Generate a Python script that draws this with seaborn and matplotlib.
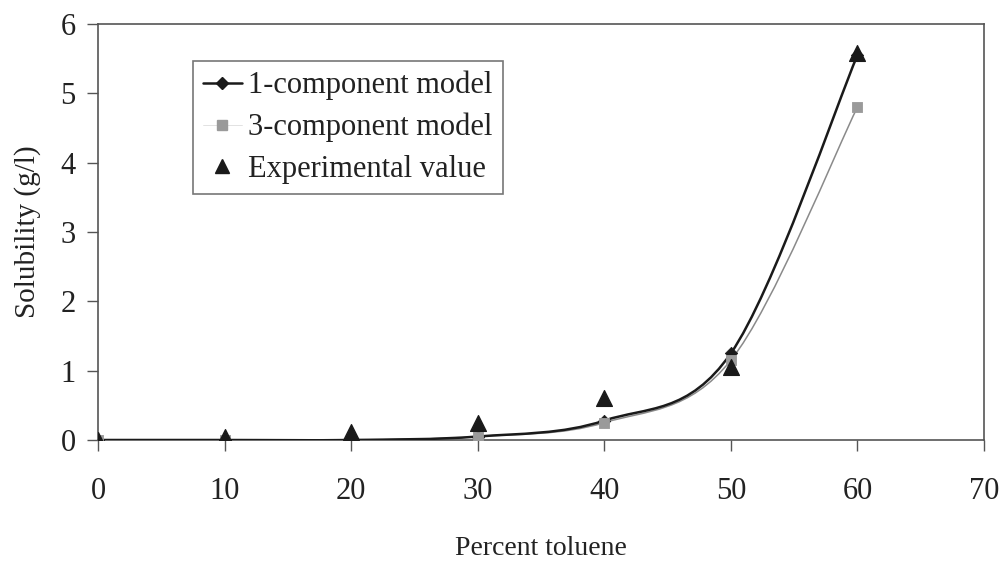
import numpy as np
import pandas as pd
import seaborn as sns
import matplotlib
matplotlib.use("Agg")
import matplotlib.pyplot as plt
from matplotlib.path import Path
from matplotlib.patches import PathPatch
from matplotlib.lines import Line2D

# ---- data ----
toluene = [0, 10, 20, 30, 40, 50, 60]
one_comp = [0.0, 0.0, 0.0, 0.05, 0.28, 1.25, 5.55]
three_comp = [0.0, 0.0, 0.0, 0.05, 0.25, 1.15, 4.80]
experimental = [0.0, 0.05, 0.12, 0.25, 0.60, 1.05, 5.58]
x_ticks = [0, 10, 20, 30, 40, 50, 60, 70]
y_ticks = [0, 1, 2, 3, 4, 5, 6]

sns.set_theme(style="white")
plt.rcParams['font.family'] = ['Liberation Serif', 'DejaVu Serif']

fig = plt.figure(figsize=(10.03, 5.61), dpi=100)
ax = fig.add_axes([0.0977, 0.2157, 0.8833, 0.7413])

df = pd.DataFrame({"x": toluene, "one": one_comp, "three": three_comp, "exp": experimental})


def smooth_path(xs, ys):
    """Excel-like smoothed line: cubic Bezier segments through the data points."""
    pts = np.column_stack([xs, ys]).astype(float)
    n = len(pts)
    verts = [pts[0]]
    codes = [Path.MOVETO]
    for i in range(n - 1):
        p0 = pts[i - 1] if i > 0 else pts[i]
        p1 = pts[i]
        p2 = pts[i + 1]
        p3 = pts[i + 2] if i + 2 < n else pts[i + 1]
        c1 = p1 + (p2 - p0) / 6.0
        c2 = p2 - (p3 - p1) / 6.0
        verts += [c1, c2, p2]
        codes += [Path.CURVE4] * 3
    return Path(verts, codes)


ax.add_patch(PathPatch(smooth_path(df.x, df.three), facecolor="none",
                       edgecolor="#8a8a8a", lw=1.1, zorder=2))
ax.add_patch(PathPatch(smooth_path(df.x, df.one), facecolor="none",
                       edgecolor="#1a1a1a", lw=1.8, zorder=3))

sns.scatterplot(data=df, x="x", y="one", marker="D", s=40, color="#1a1a1a",
                edgecolor="#1a1a1a", ax=ax, zorder=4, legend=False)
sns.scatterplot(data=df, x="x", y="three", marker="s", s=60, color="#9a9a9a",
                edgecolor="#9a9a9a", ax=ax, zorder=5, legend=False)
sns.scatterplot(data=df, x="x", y="exp", marker="^", s=130, color="#1a1a1a",
                edgecolor="#1a1a1a", ax=ax, zorder=6, legend=False)

ax.set_xlim(0, 70)
ax.set_ylim(0, 6)
ax.set_xticks(x_ticks)
ax.set_yticks(y_ticks)
ax.set_xticklabels([str(v) for v in x_ticks])
ax.set_yticklabels([str(v) for v in y_ticks])
ax.tick_params(axis="both", direction="out", length=8, width=1.0, color="#555555",
               labelsize=22, labelcolor="#222222", bottom=True, left=True)
ax.tick_params(axis="x", pad=19)
ax.tick_params(axis="y", pad=8)
for sp in ax.spines.values():
    sp.set_visible(True)
    sp.set_color("#555555")
    sp.set_linewidth(1.2)
ax.set_xlabel("Percent toluene", fontsize=20, color="#222222", labelpad=21)
ax.set_ylabel("Solubility (g/l)", fontsize=21, color="#222222", labelpad=14)

handles = [
    Line2D([], [], color="#1a1a1a", lw=1.8, marker="D", markersize=6),
    Line2D([], [], color="#dddddd", lw=0.6, marker="s", markersize=7,
           markerfacecolor="#9a9a9a", markeredgecolor="#9a9a9a"),
    Line2D([], [], color="none", marker="^", markersize=10,
           markerfacecolor="#1a1a1a", markeredgecolor="#1a1a1a"),
]
leg = ax.legend(handles, ["1-component model", "3-component model", "Experimental value"],
                loc="upper left", bbox_to_anchor=(0.107, 0.911), borderaxespad=0,
                fontsize=22, frameon=True, fancybox=False, edgecolor="#555555",
                handlelength=1.3, handletextpad=0.2, labelspacing=0.41,
                borderpad=0.32, labelcolor="#222222")
leg.get_frame().set_linewidth(1.2)

fig.savefig("out.png", dpi=100, facecolor="white")
